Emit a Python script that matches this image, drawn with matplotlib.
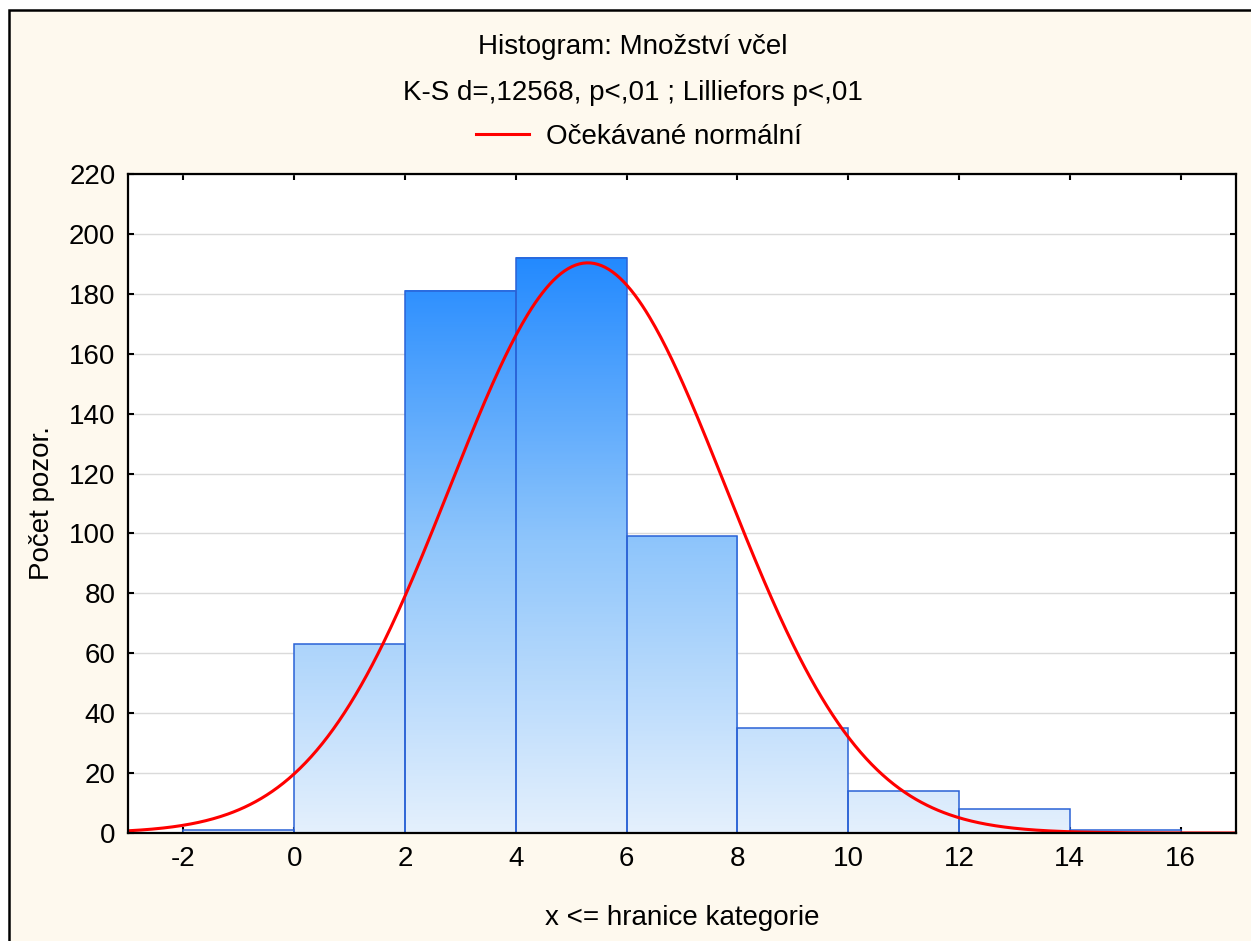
import numpy as np
import matplotlib
matplotlib.use("Agg")
import matplotlib.pyplot as plt
from matplotlib.colors import LinearSegmentedColormap
from matplotlib.lines import Line2D
from matplotlib.patches import Rectangle

# histogram data (bin edges and counts)
bin_left = [-2, 0, 2, 4, 6, 8, 10, 12, 14]
bin_width = 2
counts = [1, 63, 181, 192, 99, 35, 14, 8, 1]

# expected normal parameters
mean_val = 5.3
sd_val = 2.49
n_obs = sum(counts)

title1 = "Histogram: Množství včel"
title2 = "K-S d=,12568, p<,01 ; Lilliefors p<,01"
legend_label = "Očekávané normální"
xlabel = "x <= hranice kategorie"
ylabel = "Počet pozor."

FS = 20
plt.rcParams['font.family'] = ['Liberation Sans', 'DejaVu Sans']
plt.rcParams['axes.unicode_minus'] = False

fig = plt.figure(figsize=(12.51, 9.41), dpi=100, facecolor='white')
# cream panel with black frame
fig.patches.append(Rectangle((9 / 1251, -0.05), 1.2, 1.05 - 10 / 941,
                             transform=fig.transFigure, facecolor='#FEF9EE',
                             edgecolor='black', linewidth=1.8, zorder=-10))

ax = fig.add_axes([128 / 1251, 1 - 833 / 941, (1236 - 128) / 1251, (833 - 174) / 941])
ax.set_facecolor('white')

# gradient fill: light at the bottom, strong blue at the top
cmap = LinearSegmentedColormap.from_list('bees', ['#E4F0FD', '#8EC5FB', '#2088FF'])
for x0, h in zip(bin_left, counts):
    grad = np.linspace(0, h, 200).reshape(-1, 1)
    ax.imshow(grad, extent=(x0, x0 + bin_width, 0, h), origin='lower', aspect='auto',
              cmap=cmap, vmin=0, vmax=195, zorder=2, interpolation='bilinear')
ax.bar(bin_left, counts, width=bin_width, align='edge', facecolor='none',
       edgecolor='#2A62D6', linewidth=1.1, zorder=3)

xs = np.linspace(-3, 17, 600)
ys = n_obs * bin_width / (sd_val * np.sqrt(2 * np.pi)) * np.exp(-0.5 * ((xs - mean_val) / sd_val) ** 2)
ax.plot(xs, ys, color='#FF0000', linewidth=2.2, zorder=4)

ax.set_xlim(-3, 17)
ax.set_ylim(0, 220)
ax.set_xticks(range(-2, 17, 2))
ax.set_yticks(range(0, 221, 20))
ax.yaxis.grid(True, color='#DADADA', linewidth=1.0, zorder=0)
ax.set_axisbelow(True)
ax.tick_params(direction='in', length=4, width=1.5, labelsize=FS, top=True, right=True,
               colors='black')
ax.tick_params(axis='x', pad=9)
ax.tick_params(axis='y', pad=9)
for s in ax.spines.values():
    s.set_linewidth(1.6)
    s.set_zorder(5)

ax.set_xlabel(xlabel, fontsize=FS, labelpad=24)
ax.set_ylabel(ylabel, fontsize=FS)
ax.yaxis.set_label_coords(-0.066, 0.5)

fig.text(633 / 1251, 1 - 47 / 941, title1, ha='center', va='center', fontsize=FS)
fig.text(633 / 1251, 1 - 93 / 941, title2, ha='center', va='center', fontsize=FS)
handle = Line2D([], [], color='#FF0000', linewidth=2.2)
fig.legend([handle], [legend_label], loc='center', bbox_to_anchor=(639 / 1251, 1 - 137 / 941),
           frameon=False, fontsize=FS, handlelength=1.9, handletextpad=0.6)

fig.savefig('out.png', dpi=100, facecolor=fig.get_facecolor())
